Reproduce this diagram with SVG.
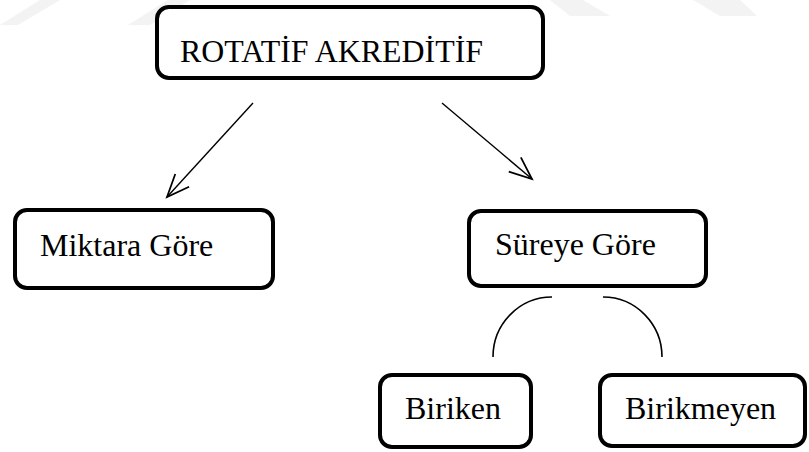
<svg xmlns="http://www.w3.org/2000/svg" width="809" height="452" viewBox="0 0 809 452">
  <style>
    .box { fill: #ffffff; stroke: #000000; stroke-width: 4; }
    .lbl { font-family: "Liberation Serif", "Times New Roman", serif; font-size: 32px; fill: #000000; }
    .conn { fill: none; stroke: #000000; stroke-width: 1.4; }
    .arc { fill: none; stroke: #000000; stroke-width: 1.6; }
    .wm { fill: #f3f3f3; }
  </style>
  <defs>
    <marker id="open" markerUnits="userSpaceOnUse" markerWidth="30" markerHeight="30" viewBox="-20 -10 24 20" refX="0" refY="0" orient="auto">
      <path d="M-18,-7.5 L0,0 L-18,7.5" fill="none" stroke="#000000" stroke-width="1.4"/>
    </marker>
  </defs>
  <rect width="809" height="452" fill="#ffffff"/>
  <g id="watermark">
    <polygon class="wm" points="40,0 60,0 18,25 0,25"/>
    <polygon class="wm" points="168,0 190,0 150,25 128,25"/>
    <polygon class="wm" points="550,0 583,0 610,16 570,16"/>
    <polygon class="wm" points="693,0 740,0 757,16 720,16"/>
  </g>
  <g id="connectors">
    <line class="conn" x1="253" y1="103" x2="167" y2="197" marker-end="url(#open)"/>
    <line class="conn" x1="442" y1="103" x2="532" y2="179" marker-end="url(#open)"/>
    <path class="arc" d="M552,297 A59,60 0 0 0 493,357"/>
    <path class="arc" d="M603,297 A59,60 0 0 1 662,357"/>
  </g>
  <g id="rotatif">
    <rect class="box" x="157" y="7" width="386" height="71" rx="12"/>
    <text class="lbl" x="180" y="62" textLength="303" lengthAdjust="spacingAndGlyphs">ROTATİF AKREDİTİF</text>
  </g>
  <g id="miktara">
    <rect class="box" x="15" y="210" width="258" height="78" rx="12"/>
    <text class="lbl" x="40" y="256">Miktara Göre</text>
  </g>
  <g id="sureye">
    <rect class="box" x="469" y="211" width="237" height="75" rx="12"/>
    <text class="lbl" x="495" y="255">Süreye Göre</text>
  </g>
  <g id="biriken">
    <rect class="box" x="380" y="375" width="151" height="72" rx="12"/>
    <text class="lbl" x="405" y="419">Biriken</text>
  </g>
  <g id="birikmeyen">
    <rect class="box" x="600" y="375" width="205" height="71" rx="12"/>
    <text class="lbl" x="625" y="419">Birikmeyen</text>
  </g>
</svg>
